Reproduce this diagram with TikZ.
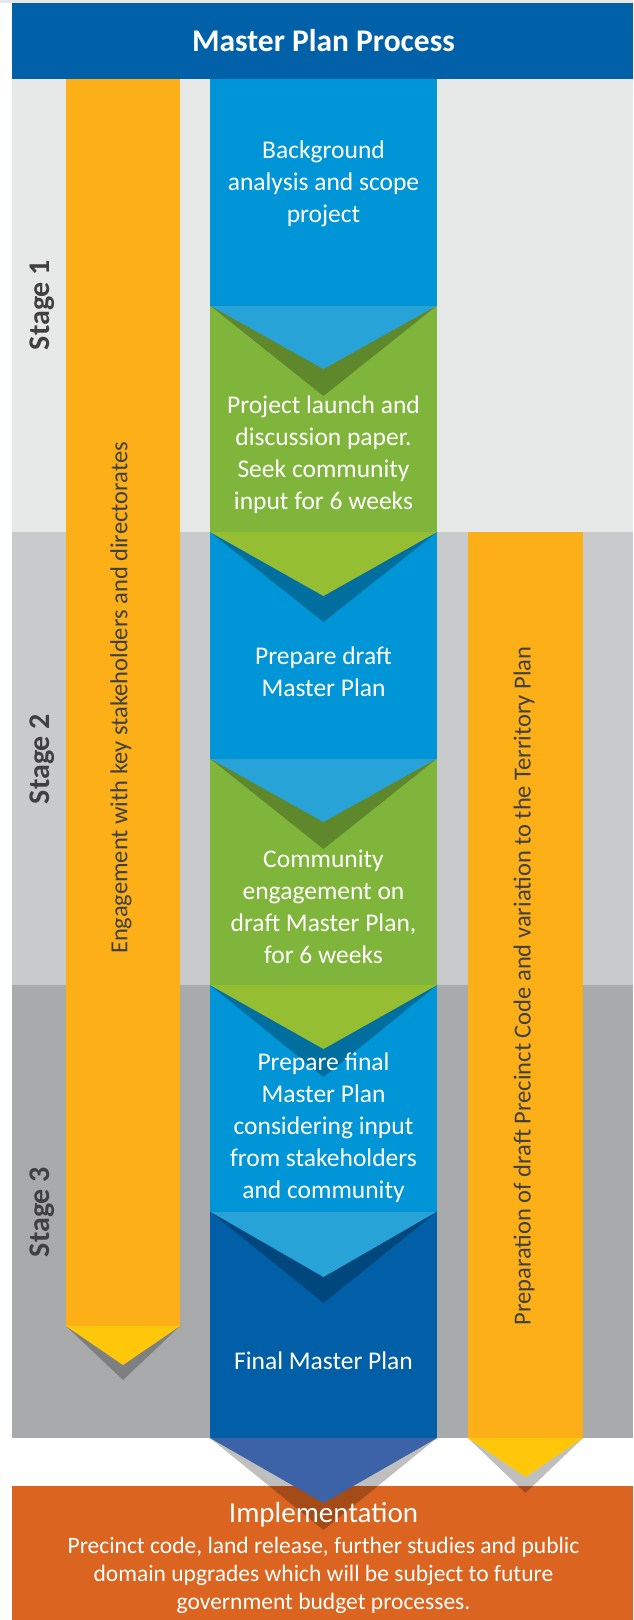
\documentclass[tikz,border=0pt]{standalone}
\usepackage{fontspec}
\setmainfont{Carlito}
\definecolor{StageOne}{HTML}{E7E8E8}
\definecolor{StageTwo}{HTML}{C9CACB}
\definecolor{StageThree}{HTML}{A9AAAC}
\definecolor{HeaderBlue}{HTML}{0060A8}
\definecolor{Sky}{HTML}{0095D6}
\definecolor{SkyLight}{HTML}{27A3D8}
\definecolor{Leaf}{HTML}{80B53B}
\definecolor{LeafLight}{HTML}{96BE33}
\definecolor{Navy}{HTML}{005FA7}
\definecolor{NavyLight}{HTML}{3C62A8}
\definecolor{Amber}{HTML}{FCAF17}
\definecolor{Gold}{HTML}{FFC709}
\definecolor{Rust}{HTML}{DB6520}
\definecolor{Ink}{HTML}{404040}

\begin{document}
\begin{tikzpicture}[x=1pt,y=-1pt,
    steptext/.style={text=white,align=center,font=\fontsize{25.5}{32}\selectfont},
    sidetext/.style={text=Ink,rotate=90,font=\fontsize{24.5}{29}\selectfont},
    stagetext/.style={text=Ink,rotate=90,font=\fontsize{30}{36}\selectfont\bfseries},
    tipshadow/.style={fill=black,fill opacity=0.25}]
        \useasboundingbox (0,0) rectangle (633,1620);

        % stage bands, header and implementation strip
        \fill[StageOne] (0,0) rectangle (633,3);
        \fill[StageOne] (12,79) rectangle (633,532);
        \fill[StageTwo] (12,532) rectangle (633,985);
        \fill[StageThree] (12,985) rectangle (633,1438);
        \fill[HeaderBlue] (12,3) rectangle (633,79);
        \fill[Rust] (12,1486) rectangle (633,1620);

        % side bars
        \fill[Amber] (66,79) rectangle (180,1326);
        \fill[Amber] (468,532) rectangle (583,1438);
        \fill[tipshadow] (66,1326) -- (180,1326) -- (123,1380) -- cycle;
        \fill[Gold] (66,1326) -- (180,1326) -- (123,1365) -- cycle;
        \fill[tipshadow] (468,1438) -- (583,1438) -- (525.5,1493) -- cycle;
        \fill[Gold] (468,1438) -- (583,1438) -- (525.5,1477) -- cycle;

        % process column
        \fill[Sky] (210,79) rectangle (437,305.5);
        \fill[Leaf] (210,305.5) rectangle (437,532);
        \fill[Sky] (210,532) rectangle (437,758.5);
        \fill[Leaf] (210,758.5) rectangle (437,985);
        \fill[Sky] (210,985) rectangle (437,1211.5);
        \fill[Navy] (210,1211.5) rectangle (437,1438);

        % chevrons between the steps
        \fill[tipshadow] (210,305.5) -- (437,305.5) -- (323.5,396) -- cycle;
        \fill[SkyLight] (210,305.5) -- (437,305.5) -- (323.5,369) -- cycle;
        \fill[tipshadow] (210,532) -- (437,532) -- (323.5,622) -- cycle;
        \fill[LeafLight] (210,532) -- (437,532) -- (323.5,596) -- cycle;
        \fill[tipshadow] (210,758.5) -- (437,758.5) -- (323.5,849) -- cycle;
        \fill[SkyLight] (210,758.5) -- (437,758.5) -- (323.5,822) -- cycle;
        \fill[tipshadow] (210,985) -- (437,985) -- (323.5,1077) -- cycle;
        \fill[LeafLight] (210,985) -- (437,985) -- (323.5,1049) -- cycle;
        \fill[tipshadow] (210,1211.5) -- (437,1211.5) -- (323.5,1303) -- cycle;
        \fill[SkyLight] (210,1211.5) -- (437,1211.5) -- (323.5,1277) -- cycle;
        \fill[tipshadow] (210,1438) -- (437,1438) -- (323.5,1530) -- cycle;
        \fill[NavyLight] (210,1438) -- (437,1438) -- (323.5,1503) -- cycle;

        \node[text=white,font=\fontsize{31.5}{38}\selectfont\bfseries] (title) at (323.5,41) {Master Plan Process};

        \node[stagetext] (stage1) at (42,305) {Stage 1};
        \node[stagetext] (stage2) at (42,759) {Stage 2};
        \node[stagetext] (stage3) at (42,1212) {Stage 3};

        \node[sidetext] (engage) at (121,698) {Engagement with key stakeholders and directorates};
        \node[sidetext] (precinct) at (524,986) {Preparation of draft Precinct Code and variation to the Territory Plan};

        \node[steptext] (scope) at (323.5,184) {Background\\analysis and scope\\project};
        \node[steptext] (launch) at (323.5,454.5) {Project launch and\\discussion paper.\\Seek community\\input for 6 weeks};
        \node[steptext] (draft) at (323.5,671.5) {Prepare draft\\Master Plan};
        \node[steptext] (consult) at (323.5,907) {Community\\engagement on\\draft Master Plan,\\for 6 weeks};
        \node[steptext] (review) at (323.5,1128) {Prepare final\\Master Plan\\considering input\\from stakeholders\\and community};
        \node[steptext] (final) at (323.5,1361) {Final Master Plan};

        \node[text=white,font=\fontsize{29}{34}\selectfont] (impl) at (323.5,1515) {Implementation};
        \node[text=white,align=center,font=\fontsize{23.5}{28}\selectfont] (implnote) at (323.5,1575) {Precinct code, land release, further studies and public\\domain upgrades which will be subject to future\\government budget processes.};
      \end{tikzpicture}
\end{document}
